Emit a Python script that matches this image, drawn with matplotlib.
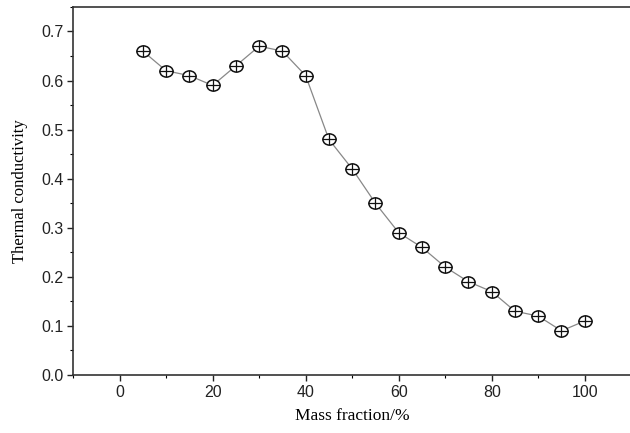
import matplotlib
matplotlib.use("Agg")
import matplotlib.pyplot as plt
from matplotlib.path import Path
from matplotlib.transforms import Affine2D
from matplotlib.ticker import MultipleLocator, FormatStrFormatter

# mass fraction (%) and thermal conductivity
mass_fraction = [5, 10, 15, 20, 25, 30, 35, 40, 45, 50,
                 55, 60, 65, 70, 75, 80, 85, 90, 95, 100]
conductivity = [0.66, 0.62, 0.61, 0.59, 0.63, 0.67, 0.66, 0.61, 0.48, 0.42,
                0.35, 0.29, 0.26, 0.22, 0.19, 0.17, 0.13, 0.12, 0.09, 0.11]

# slightly flattened circle-plus marker
SQ = 0.85
ellipse = Path.unit_circle().transformed(Affine2D().scale(1.0, SQ))
plus = Path([(-1, 0), (1, 0), (0, -SQ), (0, SQ)],
            [Path.MOVETO, Path.LINETO, Path.MOVETO, Path.LINETO])

fig = plt.figure(figsize=(6.3, 4.33), dpi=100)
ax = fig.add_axes([0.116, 0.134, 0.886, 0.85])

ax.plot(mass_fraction, conductivity, color="#888888", lw=0.9, zorder=1)
ax.plot(mass_fraction, conductivity, ls="none", marker=ellipse, ms=9.5,
        mfc="white", mec="#111111", mew=1.1, zorder=2)
ax.plot(mass_fraction, conductivity, ls="none", marker=plus, ms=9.5,
        mfc="none", mec="#111111", mew=0.9, zorder=3)

ax.set_xlim(-10, 110)
ax.set_ylim(0, 0.75)
ax.xaxis.set_major_locator(MultipleLocator(20))
ax.xaxis.set_minor_locator(MultipleLocator(10))
ax.yaxis.set_major_locator(MultipleLocator(0.1))
ax.yaxis.set_minor_locator(MultipleLocator(0.05))
ax.yaxis.set_major_formatter(FormatStrFormatter("%.1f"))

ax.tick_params(which="major", direction="out", length=4, width=1,
               labelsize=11.5, colors="#222222", pad=3)
ax.tick_params(which="minor", direction="out", length=2.5, width=0.8)
for lbl in ax.get_xticklabels() + ax.get_yticklabels():
    lbl.set_fontfamily("Liberation Sans")

for sp in ax.spines.values():
    sp.set_linewidth(1.2)
    sp.set_color("#333333")
ax.spines["right"].set_visible(False)

ax.set_xlabel("Mass fraction/%", family="Liberation Serif", fontsize=12.5, labelpad=6)
ax.set_ylabel("Thermal conductivity", family="Liberation Serif", fontsize=12, labelpad=9)

fig.savefig("out.png", dpi=100, facecolor="white")
